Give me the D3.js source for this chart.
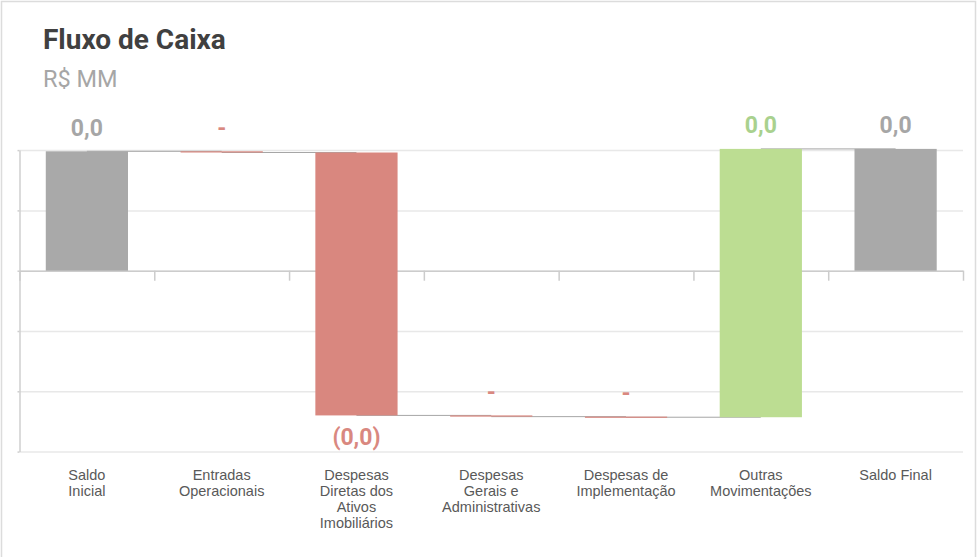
<!DOCTYPE html>
<html lang="pt">
<head>
    <meta charset="UTF-8" />
    <title>Fluxo de Caixa</title>
    <script src="https://d3js.org/d3.v7.min.js"></script>
    <style>
        body { margin: 0; background: #fff; }
        .title { font-family: Roboto, "Liberation Sans", sans-serif; font-weight: 700; font-size: 28px; fill: #404040; }
        .subtitle { font-family: Roboto, "Liberation Sans", sans-serif; font-size: 23.5px; fill: #a6a6a6; }
        .val { font-family: Roboto, "Liberation Sans", sans-serif; font-weight: 700; font-size: 23px; text-anchor: middle; }
        .cat text { font-family: "Liberation Sans", Arial, sans-serif; font-size: 14.5px; fill: #595959; }
        .grid line { stroke: #e8e8e8; stroke-width: 1.5px; }
        .connector { stroke: #a6a6a6; stroke-width: 1px; }
    </style>
</head>
<body>
<script>
    // dados
    const categories = ["Saldo Inicial", "Entradas Operacionais", "Despesas Diretas dos Ativos Imobiliários",
        "Despesas Gerais e Administrativas", "Despesas de Implementação", "Outras Movimentações", "Saldo Final"];
    const categoryLines = [
        ["Saldo", "Inicial"],
        ["Entradas", "Operacionais"],
        ["Despesas", "Diretas dos", "Ativos", "Imobiliários"],
        ["Despesas", "Gerais e", "Administrativas"],
        ["Despesas de", "Implementação"],
        ["Outras", "Movimentações"],
        ["Saldo Final"]
    ];
    const values = [0.0198, -0.0002, -0.0436, -0.0002, -0.0001, 0.0445, 0.0202]; // R$ MM
    const kinds = ["total", "delta", "delta", "delta", "delta", "delta", "total"];
    const yTicks = [-0.03, -0.02, -0.01, 0, 0.01, 0.02];

    const width = 977, height = 557;
    const plot = { left: 19.5, right: 963, top: 150.1, bottom: 451.6 };

    // barras da cascata
    let running = 0;
    const bars = categories.map((c, i) => {
        let start, end;
        if (kinds[i] === "total") { start = 0; end = values[i]; }
        else { start = running; end = running + values[i]; }
        running = end;
        return { cat: c, lines: categoryLines[i], value: values[i], kind: kinds[i], start, end };
    });

    const locale = d3.formatLocale({ decimal: ",", thousands: ".", grouping: [3], currency: ["R$", ""] });
    const fmt = locale.format(",.1f");
    const label = v => Math.abs(v) < 0.001 ? "-" : (v < 0 ? "(" + fmt(-v) + ")" : fmt(v));

    const fillColor = d => d.kind === "total" ? "#a9a9a9" : (d.value < 0 ? "#d9877f" : "#bcdd92");
    const textColor = d => d.kind === "total" ? "#a6a6a6" : (d.value < 0 ? "#d98880" : "#a9d18e");

    const x = d3.scaleBand()
        .domain(categories)
        .range([plot.left, plot.right])
        .paddingInner(0.39)
        .paddingOuter(0.195);
    const xEdges = d3.scaleLinear().domain([0, categories.length]).range([plot.left, plot.right]);

    const y = d3.scaleLinear().domain([-0.03, 0.02]).range([plot.bottom, plot.top]);

    const svg = d3.select("body").append("svg")
        .attr("width", width)
        .attr("height", height);

    // moldura do cartão
    svg.append("path")
        .attr("d", `M1.5,${height} V1.5 H${width - 1.5} V${height}`)
        .attr("fill", "none")
        .attr("stroke", "#dcdcdc")
        .attr("stroke-width", 1.5);

    svg.append("text").attr("class", "title").attr("x", 43).attr("y", 49).text("Fluxo de Caixa");
    svg.append("text").attr("class", "subtitle").attr("x", 43).attr("y", 87).text("R$ MM");

    // linhas de grade + eixo vertical
    const grid = svg.append("g")
        .attr("class", "grid")
        .attr("transform", `translate(${plot.left},0)`)
        .call(d3.axisLeft(y).tickValues(yTicks).tickSize(-(plot.right - plot.left)).tickFormat(""));
    grid.select(".domain").remove();

    svg.append("g")
        .attr("transform", `translate(${plot.left},0)`)
        .call(d3.axisLeft(y).tickValues(yTicks).tickSizeInner(2).tickSizeOuter(0).tickFormat(""))
        .call(g => g.selectAll("line, path").attr("stroke", "#cfcfcf").attr("stroke-width", 1.5));

    // eixo zero com marcas entre categorias
    svg.append("g")
        .attr("transform", `translate(0,${y(0)})`)
        .call(d3.axisBottom(xEdges).tickValues(d3.range(categories.length + 1)).tickSizeInner(10).tickSizeOuter(0).tickFormat(""))
        .call(g => g.selectAll("line, path").attr("stroke", "#cccccc").attr("stroke-width", 1.5));

    // conectores (centro a centro, atrás das barras)
    svg.append("g").selectAll("line")
        .data(bars.slice(0, -1))
        .enter()
        .append("line")
        .attr("class", "connector")
        .attr("x1", d => x(d.cat) + x.bandwidth() / 2)
        .attr("x2", (d, i) => x(categories[i + 1]) + x.bandwidth() / 2)
        .attr("y1", d => y(d.end))
        .attr("y2", d => y(d.end));

    // barras
    svg.append("g").selectAll("rect")
        .data(bars)
        .enter()
        .append("rect")
        .attr("x", d => x(d.cat))
        .attr("width", x.bandwidth())
        .attr("y", d => y(Math.max(d.start, d.end)))
        .attr("height", d => Math.max(1.2, Math.abs(y(d.start) - y(d.end))))
        .attr("fill", fillColor);

    // rótulos de valor
    svg.append("g").selectAll("text")
        .data(bars)
        .enter()
        .append("text")
        .attr("class", "val")
        .attr("x", d => x(d.cat) + x.bandwidth() / 2)
        .attr("y", d => {
            const txt = label(d.value);
            if (d.value < 0 && txt !== "-") return y(Math.min(d.start, d.end)) + 30;
            return y(Math.max(d.start, d.end)) - 15.5;
        })
        .attr("fill", textColor)
        .text(d => label(d.value));

    // rótulos das categorias
    const cat = svg.append("g").attr("class", "cat");
    cat.selectAll("text")
        .data(bars)
        .enter()
        .append("text")
        .attr("text-anchor", "middle")
        .attr("x", d => x(d.cat) + x.bandwidth() / 2)
        .attr("y", 480)
        .each(function (d) {
            const t = d3.select(this);
            d.lines.forEach((ln, k) => {
                t.append("tspan")
                    .attr("x", x(d.cat) + x.bandwidth() / 2)
                    .attr("dy", k === 0 ? 0 : 16)
                    .text(ln);
            });
        });
</script>
</body>
</html>
